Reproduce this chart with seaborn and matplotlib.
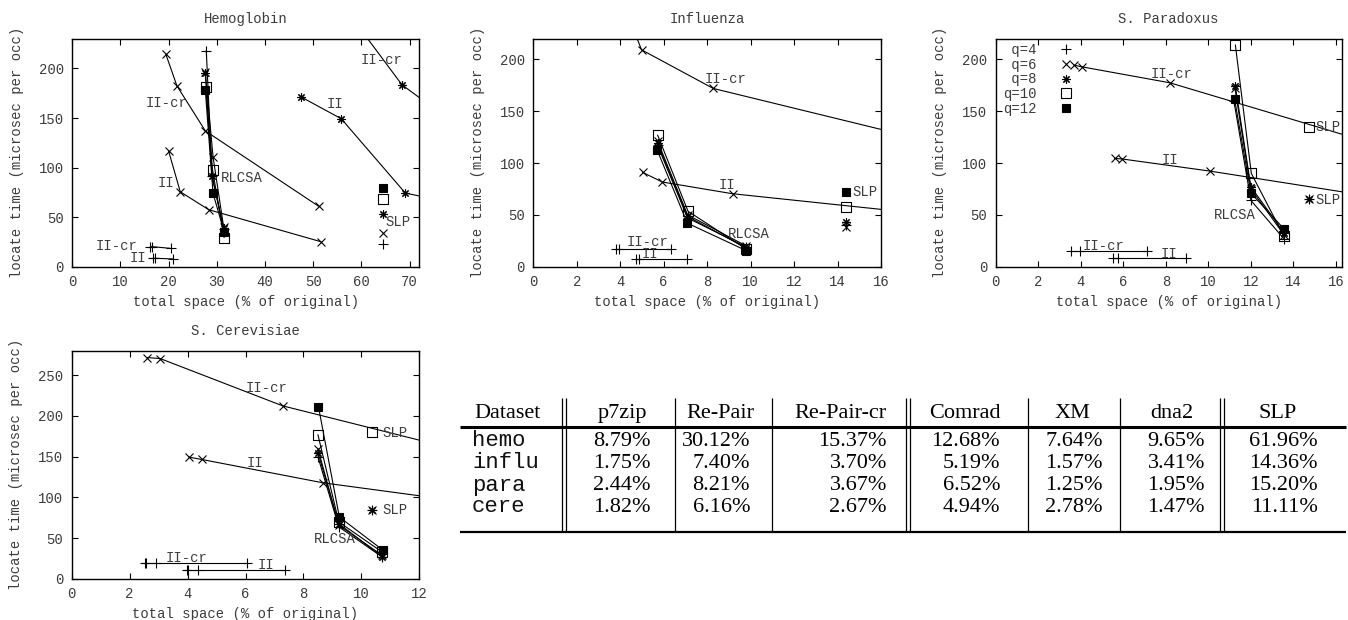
import numpy as np
import pandas as pd
import seaborn as sns
import matplotlib
matplotlib.use("Agg")
from matplotlib import pyplot as plt
from matplotlib.path import Path
from matplotlib.lines import Line2D

# ---- data ----
Q_LABELS = ["q=4", "q=6", "q=8", "q=10", "q=12"]

# Hemoglobin
hemo_rlcsa_x = [[27.8, 29.0, 31.4], [27.6, 29.2, 31.4], [27.6, 29.0, 31.4], [27.7, 29.1, 31.5], [27.6, 29.2, 31.5]]
hemo_rlcsa_y = [[218, 92, 38], [196, 111, 40], [195, 91, 39], [181.5, 97.5, 29.3], [178, 74, 35.3]]
hemo_ii_x = [[16.8, 17.2, 20.9], [20.0, 22.4, 28.3, 51.6], [47.4, 55.8, 69.1, 85]]
hemo_ii_y = [[8.5, 8.5, 7.8], [116.4, 75.6, 57.5, 25.2], [171.4, 149.3, 74.3, 58]]
hemo_iicr_x = [[16.2, 16.6, 20.4], [19.4, 21.7, 27.6, 51.1], [57, 68.4, 80]]
hemo_iicr_y = [[20.2, 20.2, 18.5], [214.5, 182.5, 137, 61], [258, 183.5, 142]]
hemo_slp_x = 64.4
hemo_slp_y = [22.9, 33.6, 52.8, 68.3, 79]

# Influenza
influ_rlcsa_x = [[5.72, 7.1, 9.8], [5.72, 7.1, 9.8], [5.72, 7.1, 9.8], [5.72, 7.12, 9.8], [5.7, 7.09, 9.8]]
influ_rlcsa_y = [[117, 47, 19], [121, 50, 20], [119, 48.5, 18], [127, 53.5, 17], [112.5, 42, 15.5]]
influ_ii_x = [[4.72, 4.88, 7.06], [5.03, 5.94, 9.17, 20]]
influ_ii_y = [[7.1, 7.1, 7.1], [91, 81.7, 70.4, 46.5]]
influ_iicr_x = [[3.8, 3.96, 6.33], [4.5, 4.98, 8.28, 20]]
influ_iicr_y = [[17, 17, 17], [235, 209.3, 172, 112]]
influ_slp_x = 14.39
influ_slp_y = [40, 38.6, 43.4, 57.2, 72.3]

# S. Paradoxus
para_rlcsa_x = [[11.2, 12.0, 13.55], [11.25, 12.0, 13.55], [11.27, 12.0, 13.55], [11.27, 12.02, 13.55], [11.23, 12.0, 13.58]]
para_rlcsa_y = [[160, 64, 27], [172, 75, 31], [174, 77, 33], [214, 90, 29.5], [162, 71, 36]]
para_ii_x = [[5.52, 5.73, 8.93], [5.6, 5.96, 10.06, 20]]
para_ii_y = [[8.1, 8.1, 8.1], [104.5, 103.9, 92.3, 60.3]]
para_iicr_x = [[3.55, 3.95, 7.13], [3.68, 4.04, 8.18, 20]]
para_iicr_y = [[15.1, 15.1, 15.1], [194.5, 192.9, 177.5, 105]]
para_slp_x = 14.72
para_slp_y = [65, 65.5, 65.3, 134.5, np.nan]

# S. Cerevisiae
cere_rlcsa_x = [[8.5, 9.22, 10.72], [8.5, 9.22, 10.72], [8.5, 9.22, 10.72], [8.5, 9.22, 10.72], [8.52, 9.24, 10.74]]
cere_rlcsa_y = [[150, 64, 27], [160, 66, 29], [155, 68, 27], [177, 70, 33], [211, 76, 35.5]]
cere_ii_x = [[3.97, 4.03, 4.35, 7.36], [4.05, 4.49, 8.67, 16]]
cere_ii_y = [[10.6, 10.6, 10.6, 10.6], [149.5, 146.6, 118, 83]]
cere_iicr_x = [[2.52, 2.56, 2.9, 6.04], [2.59, 3.05, 7.28, 16]]
cere_iicr_y = [[19.6, 19.6, 19.6, 19.6], [271.6, 270.4, 212.4, 134.6]]
cere_slp_x = 10.38
cere_slp_y = [85, 85, 84.6, 180.6, np.nan]

# table
tab_datasets = ["hemo", "influ", "para", "cere"]
tab_columns = ["p7zip", "Re-Pair", "Re-Pair-cr", "Comrad", "XM", "dna2", "SLP"]
p7zip = ["8.79%", "1.75%", "2.44%", "1.82%"]
repair = ["30.12%", "7.40%", "8.21%", "6.16%"]
repair_cr = ["15.37%", "3.70%", "3.67%", "2.67%"]
comrad = ["12.68%", "5.19%", "6.52%", "4.94%"]
xm = ["7.64%", "1.57%", "1.25%", "2.78%"]
dna2 = ["9.65%", "3.41%", "1.95%", "1.47%"]
slp = ["61.96%", "14.36%", "15.20%", "11.11%"]

# ---- style ----
sns.set_theme(style="ticks")
plt.rcParams["font.family"] = ["Liberation Mono", "DejaVu Sans"]
TXT = "#3c3c3c"

sq_dot = Path([(-1, -1), (1, -1), (1, 1), (-1, 1), (-1, -1),
               (-0.1, -0.1), (0.1, -0.1), (0.1, 0.1), (-0.1, 0.1), (-0.1, -0.1)],
              [Path.MOVETO, Path.LINETO, Path.LINETO, Path.LINETO, Path.CLOSEPOLY,
               Path.MOVETO, Path.LINETO, Path.LINETO, Path.LINETO, Path.CLOSEPOLY])
MARKERS = [
    dict(marker="+", markersize=7, markerfacecolor="none"),
    dict(marker="x", markersize=5.5, markerfacecolor="none"),
    dict(marker=(8, 2, 0), markersize=6, markerfacecolor="none"),
    dict(marker=sq_dot, markersize=6.5, markerfacecolor="none"),
    dict(marker="s", markersize=5.5, markerfacecolor="black"),
]


def series(ax, xs, ys, i, ls="-"):
    df = pd.DataFrame({"x": xs, "y": ys}).dropna()
    sns.lineplot(data=df, x="x", y="y", ax=ax, color="black", linewidth=0.8, linestyle=ls,
                 sort=False, estimator=None, markeredgecolor="black", markeredgewidth=0.8,
                 **MARKERS[i])


def panel(rect, title, rx, ry, iix, iiy, crx, cry, sx, sy, labels, xmax, xt, ymax, yt):
    ax = fig.add_axes(rect)
    for i in range(len(rx)):
        series(ax, rx[i], ry[i], i)
    for i in range(len(iix)):
        series(ax, iix[i], iiy[i], i)
    for i in range(len(crx)):
        series(ax, crx[i], cry[i], i)
    for i, v in enumerate(sy):
        if not np.isnan(v):
            series(ax, [sx], [v], i, ls="none")
    for s, x, y in labels:
        ax.text(x, y, s, ha="center", va="center", fontsize=10, color=TXT)
    ax.set_xlim(0, xmax)
    ax.set_ylim(0, ymax)
    ax.set_xticks(xt)
    ax.set_yticks(yt)
    ax.tick_params(direction="in", top=True, right=True, length=4, width=0.8,
                   labelsize=10, labelcolor=TXT, pad=6, color="black")
    for sp in ax.spines.values():
        sp.set_visible(True)
        sp.set_linewidth(1.0)
        sp.set_color("black")
    ax.set_title(title, fontsize=10, color=TXT, pad=11)
    ax.set_xlabel("total space (% of original)", fontsize=10, color=TXT, labelpad=4)
    ax.set_ylabel("locate time (microsec per occ)", fontsize=10, color=TXT, labelpad=11)
    return ax


W, H = 1348, 620
fig = plt.figure(figsize=(W / 100, H / 100), dpi=100)


def rect(l, t, r, b):
    return [l / W, 1 - b / H, (r - l) / W, (b - t) / H]


panel(rect(72.3, 38.7, 419.3, 266.7), "Hemoglobin",
      hemo_rlcsa_x, hemo_rlcsa_y, hemo_ii_x, hemo_ii_y, hemo_iicr_x, hemo_iicr_y,
      hemo_slp_x, hemo_slp_y,
      [("II-cr", 64.1, 209), ("II", 54.6, 163.7), ("II-cr", 19.5, 164.8), ("II", 19.4, 84.7),
       ("RLCSA", 35.2, 89), ("SLP", 67.5, 45.4), ("II-cr", 9.2, 21.2), ("II", 13.7, 8.5)],
      72, range(0, 71, 10), 230, range(0, 201, 50))

panel(rect(533.3, 38.7, 881, 266.7), "Influenza",
      influ_rlcsa_x, influ_rlcsa_y, influ_ii_x, influ_ii_y, influ_iicr_x, influ_iicr_y,
      influ_slp_x, influ_slp_y,
      [("II-cr", 8.87, 180.7), ("II", 8.9, 78.8), ("RLCSA", 9.94, 31.2), ("SLP", 15.26, 71.7),
       ("II-cr", 5.25, 23.5), ("II", 5.37, 12.2)],
      16, range(0, 17, 2), 220, range(0, 201, 50))

axp = panel(rect(995.7, 38.7, 1341.7, 266.7), "S. Paradoxus",
            para_rlcsa_x, para_rlcsa_y, para_ii_x, para_ii_y, para_iicr_x, para_iicr_y,
            para_slp_x, para_slp_y,
            [("II-cr", 8.26, 185.9), ("II", 8.18, 102.9), ("RLCSA", 11.24, 49.8), ("SLP", 15.62, 135),
             ("SLP", 15.62, 64.3), ("II-cr", 5.05, 19.9), ("II", 8.15, 12.2)],
            16.27, range(0, 17, 2), 220, range(0, 201, 50))
handles = [Line2D([], [], color="black", linestyle="none", markeredgecolor="black",
                  markeredgewidth=0.8, **m) for m in MARKERS]
axp.legend(handles, [q.rjust(4) for q in Q_LABELS], loc="upper left", bbox_to_anchor=(0.021, 0.982),
           frameon=False, markerfirst=False, handlelength=1.0, handletextpad=1.6,
           labelspacing=0.06, borderpad=0, borderaxespad=0, prop={"size": 10},
           labelcolor=TXT)

panel(rect(71.7, 350.7, 419.3, 579), "S. Cerevisiae",
      cere_rlcsa_x, cere_rlcsa_y, cere_ii_x, cere_ii_y, cere_iicr_x, cere_iicr_y,
      cere_slp_x, cere_slp_y,
      [("II-cr", 6.73, 233.7), ("II", 6.33, 141.7), ("RLCSA", 9.09, 49), ("SLP", 11.16, 178.5),
       ("SLP", 11.16, 84.6), ("II-cr", 3.97, 25.3), ("II", 6.7, 17.2)],
      12, range(0, 13, 2), 280, range(0, 251, 50))

# ---- table, drawn in pixel coordinates ----
tab = fig.add_axes([0, 0, 1, 1], zorder=-1)
tab.set_xlim(0, W)
tab.set_ylim(H, 0)
tab.axis("off")

head_cx = [508, 622, 720, 840, 965, 1072, 1172, 1278]
num_right = [651, 750, 887, 1000, 1103, 1205, 1318]
single_v = [675, 772, 1028, 1120]
double_v = [564, 908, 1222]
row_base = [446, 468.5, 490.5, 512.5]

tab.hlines(426.5, 460, 1346, color="black", linewidth=2.2)
tab.hlines(532, 460, 1346, color="black", linewidth=1.6)
tab.vlines(single_v, 398, 532, color="black", linewidth=0.9)
for x in double_v:
    tab.vlines([x - 1.8, x + 1.8], 398, 532, color="black", linewidth=0.9)

serif = ["Liberation Serif", "DejaVu Serif"]
for s, x in zip(["Dataset"] + tab_columns, head_cx):
    tab.text(x, 418, s, ha="center", va="baseline", fontsize=16, family=serif, color="black")
for r, name in enumerate(tab_datasets):
    tab.text(472, row_base[r], name, ha="left", va="baseline", fontsize=16,
             family=["Liberation Mono", "DejaVu Sans Mono"], color="#111111")
    for col, x in zip([p7zip, repair, repair_cr, comrad, xm, dna2, slp], num_right):
        tab.text(x, row_base[r], col[r], ha="right", va="baseline", fontsize=16,
                 family=serif, color="black")

fig.savefig("out.png", dpi=100)
